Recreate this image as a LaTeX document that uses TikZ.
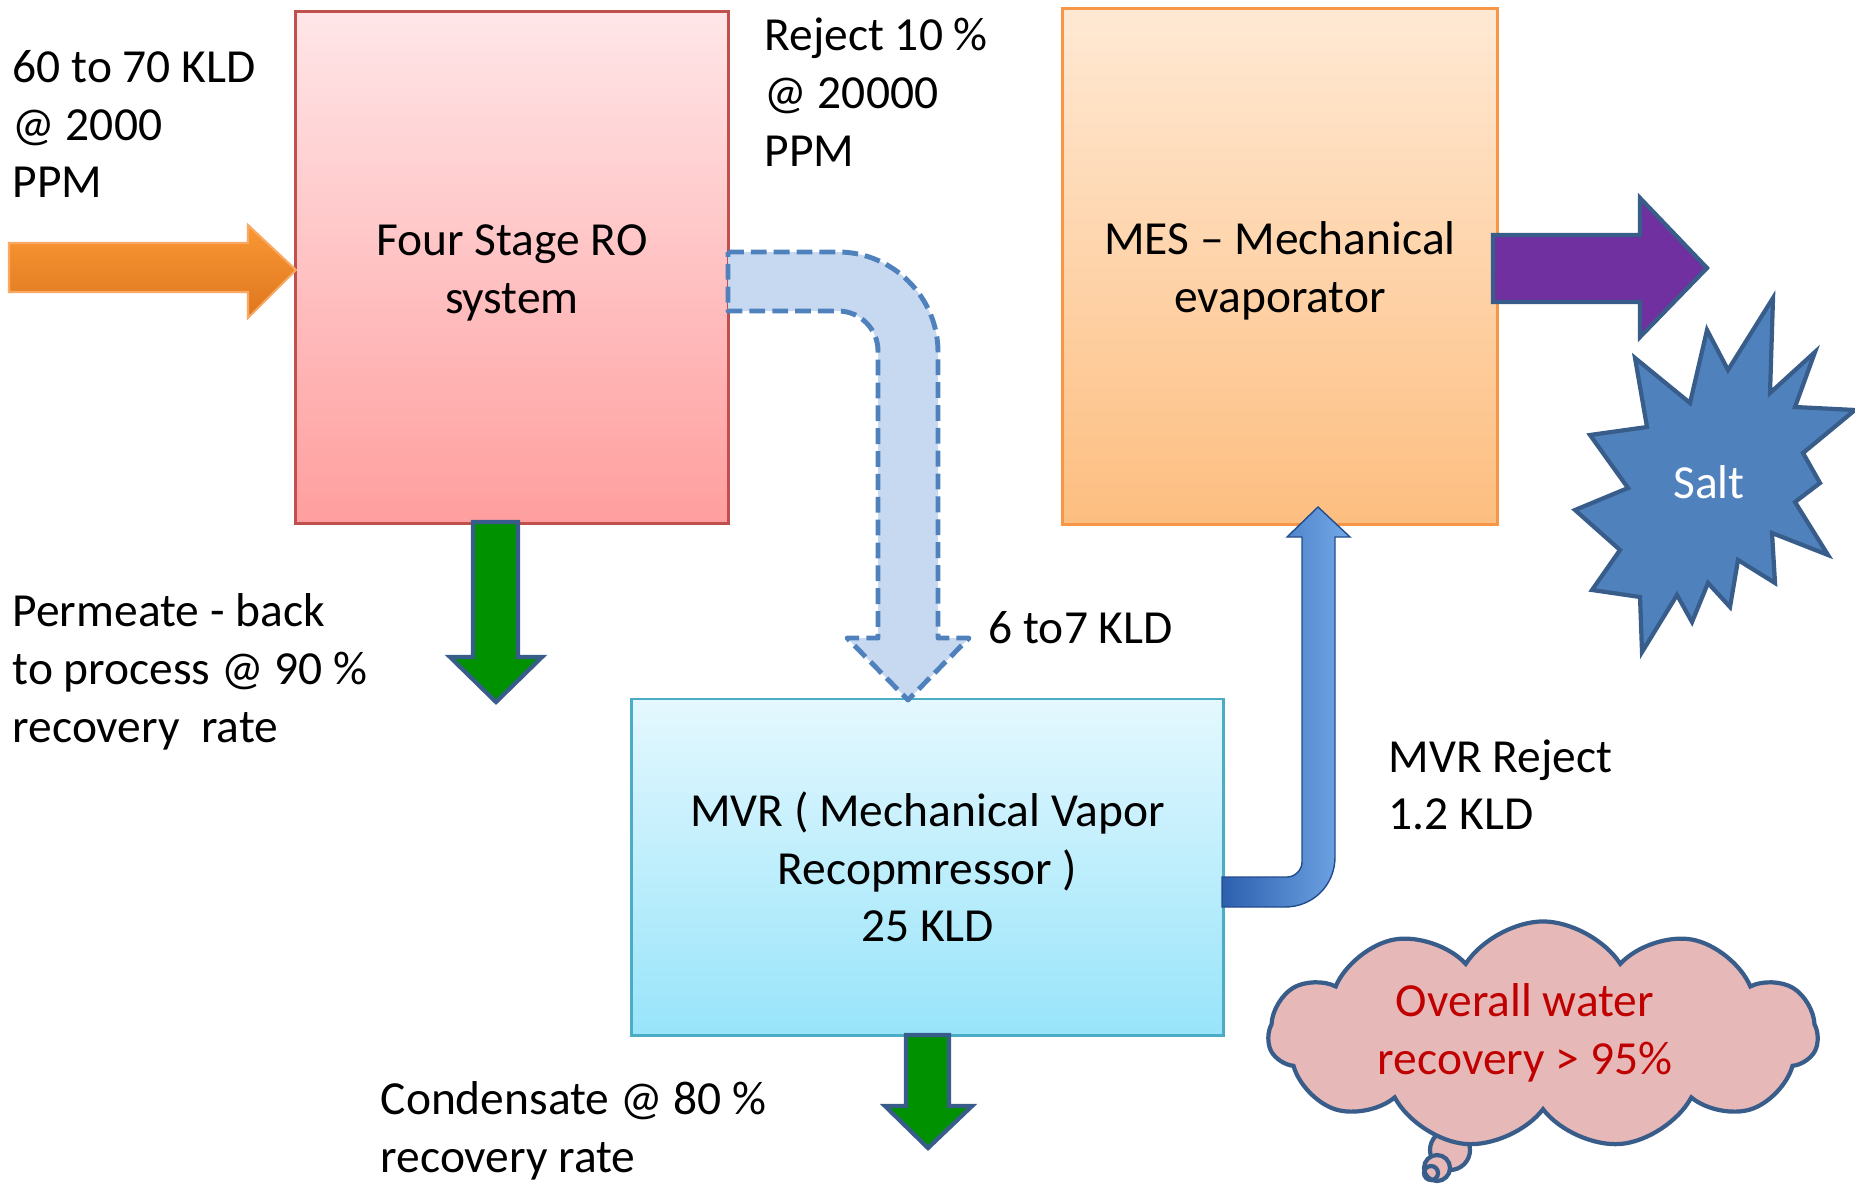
\documentclass[tikz,border=0pt]{standalone}
\usepackage{fontspec}
\setmainfont{Carlito}
\usepackage{xcolor}
\usepackage{tikz}
\usetikzlibrary{shapes.symbols, positioning, calc}
\definecolor{roedge}{RGB}{192,80,77}
\definecolor{rotop}{RGB}{255,230,232}
\definecolor{robottom}{RGB}{255,158,158}
\definecolor{mesedge}{RGB}{247,150,70}
\definecolor{mestop}{RGB}{255,233,212}
\definecolor{mesbottom}{RGB}{253,190,128}
\definecolor{mvredge}{RGB}{75,172,198}
\definecolor{mvrtop}{RGB}{228,248,254}
\definecolor{mvrbottom}{RGB}{152,228,250}
\definecolor{feedtop}{RGB}{250,152,52}
\definecolor{feedbottom}{RGB}{222,118,30}
\definecolor{feededge}{RGB}{248,170,100}
\definecolor{arrowedge}{RGB}{56,93,138}
\definecolor{permgreen}{RGB}{0,145,0}
\definecolor{saltpurple}{RGB}{112,48,160}
\definecolor{saltblue}{RGB}{79,129,189}
\definecolor{rejectfill}{RGB}{198,217,240}
\definecolor{mvrdark}{RGB}{45,95,175}
\definecolor{mvrlight}{RGB}{115,170,232}
\definecolor{cloudfill}{RGB}{230,184,183}
\definecolor{cloudtext}{RGB}{192,0,0}
\newcommand{\flowfont}{\fontsize{13.5}{16.4}\selectfont}
\newcommand{\topstrut}{\rule{0pt}{12pt}}
\tikzset{
  stage/.style={
    rectangle, align=center, inner sep=0pt, line width=0.8pt,
    draw=#1edge, top color=#1top, bottom color=#1bottom, font=\flowfont
  },
  note/.style={align=left, inner sep=0pt, anchor=west, font=\flowfont},
  blockarrow/.style={draw=arrowedge, line width=1.2pt, line join=miter, fill=#1},
  dashflow/.style={fill=rejectfill, draw=saltblue, line width=1.4pt,
    dash pattern=on 4.5pt off 2pt, line join=round},
  bubble/.style={draw=arrowedge, line width=1.2pt, fill=cloudfill}
}

\begin{document}
\begin{tikzpicture}[x=0.01cm, y=-0.01cm]
  \useasboundingbox (0,0) rectangle (1855,1188);

  % process boxes
  \node[stage=ro,  minimum width=4.32cm, minimum height=5.11cm] (ro)  at (512,267.5)
    {\topstrut Four Stage RO\\system};
  \node[stage=mes, minimum width=4.34cm, minimum height=5.15cm] (mes) at (1280,266.5)
    {\topstrut MES -- Mechanical\\evaporator};
  \node[stage=mvr, minimum width=5.91cm, minimum height=3.36cm] (mvr) at (927.5,867)
    {MVR ( Mechanical Vapor\\Recopmressor )\\25 KLD};

  % feed arrow
  \draw[draw=feededge, line width=0.6pt, top color=feedtop, bottom color=feedbottom]
    (9,243) -- (248,243) -- (248,225) -- (296,270) -- (248,318) -- (248,292) -- (9,292) -- cycle;

  % permeate and condensate
  \draw[blockarrow=permgreen]
    (473,522) -- (518,522) -- (518,657) -- (542,657) -- (496,702) -- (450,657) -- (473,657) -- cycle;
  \draw[blockarrow=permgreen]
    (906,1035) -- (949,1035) -- (949,1106) -- (972,1106) -- (928,1148) -- (885,1106) -- (906,1106) -- cycle;

  % reject to MVR
  \draw[dashflow]
    (728,252) -- (838,252) .. controls (893,252) and (938,297) .. (938,352) -- (938,638)
    -- (969,638) -- (908,700) -- (847,638) -- (878,638) -- (878,351)
    .. controls (878,329) and (860,311) .. (838,311) -- (728,311) -- cycle;

  % MVR reject to MES
  \draw[draw=mvrdark!80!black, line width=0.4pt, left color=mvrdark, right color=mvrlight]
    (1222,877) -- (1287,877) .. controls (1295,877) and (1302,870) .. (1302,862) -- (1302,537)
    -- (1287,537) -- (1318,507) -- (1350,537) -- (1335,537) -- (1335,857)
    .. controls (1335,885) and (1313,907) .. (1285,907) -- (1222,907) -- cycle;

  % salt out
  \draw[blockarrow=saltpurple]
    (1493,235) -- (1640,235) -- (1640,198) -- (1707,268) -- (1640,337) -- (1640,302) -- (1493,302) -- cycle;
  \draw[blockarrow=saltblue]
    (1773,298) -- (1770,393) -- (1815,352) -- (1795,407) -- (1855,410) -- (1803,453)
    -- (1820,483) -- (1795,502) -- (1828,555) -- (1772,533) -- (1775,583) -- (1738,560)
    -- (1730,607) -- (1708,583) -- (1692,622) -- (1677,595) -- (1642,652) -- (1640,597)
    -- (1592,590) -- (1620,550) -- (1575,510) -- (1628,488) -- (1590,435) -- (1647,427)
    -- (1635,358) -- (1690,403) -- (1707,330) -- (1728,370) -- cycle;
  \node[font=\flowfont, text=white, inner sep=0pt] (salt) at (1709,482) {Salt};

  % labels
  \node[note] (feed)    at (12,124)   {60 to 70 KLD\\@ 2000\\PPM};
  \node[note] (reject)  at (764,92)   {Reject 10 \%\\@ 20000\\PPM};
  \node[note] (perm)    at (12,672)   {Permeate - back\\to process @ 90 \%\\recovery~ rate};
  \node[note] (rejflow) at (988,628)  {6 to7 KLD};
  \node[note] (mvrrej)  at (1388,785) {MVR Reject\\1.2 KLD};
  \node[note] (cond)    at (380,1131) {Condensate @ 80 \%\\recovery rate};

  % overall recovery
  \draw[bubble] (1450,1150) circle (20);
  \node[cloud, cloud puffs=11, cloud puff arc=115, aspect=2.85, bubble,
    minimum width=5.49cm, minimum height=2.27cm] (cloud) at (1543,1035) {};
  \node[align=center, inner sep=0pt, text=cloudtext, font=\flowfont] (overall) at (1525,1033)
    {Overall water\\recovery > 95\%};
  \draw[bubble] (1437,1168) circle (13);
  \draw[draw=arrowedge, line width=1.2pt] (1431,1173) circle (7);
\end{tikzpicture}
\end{document}
